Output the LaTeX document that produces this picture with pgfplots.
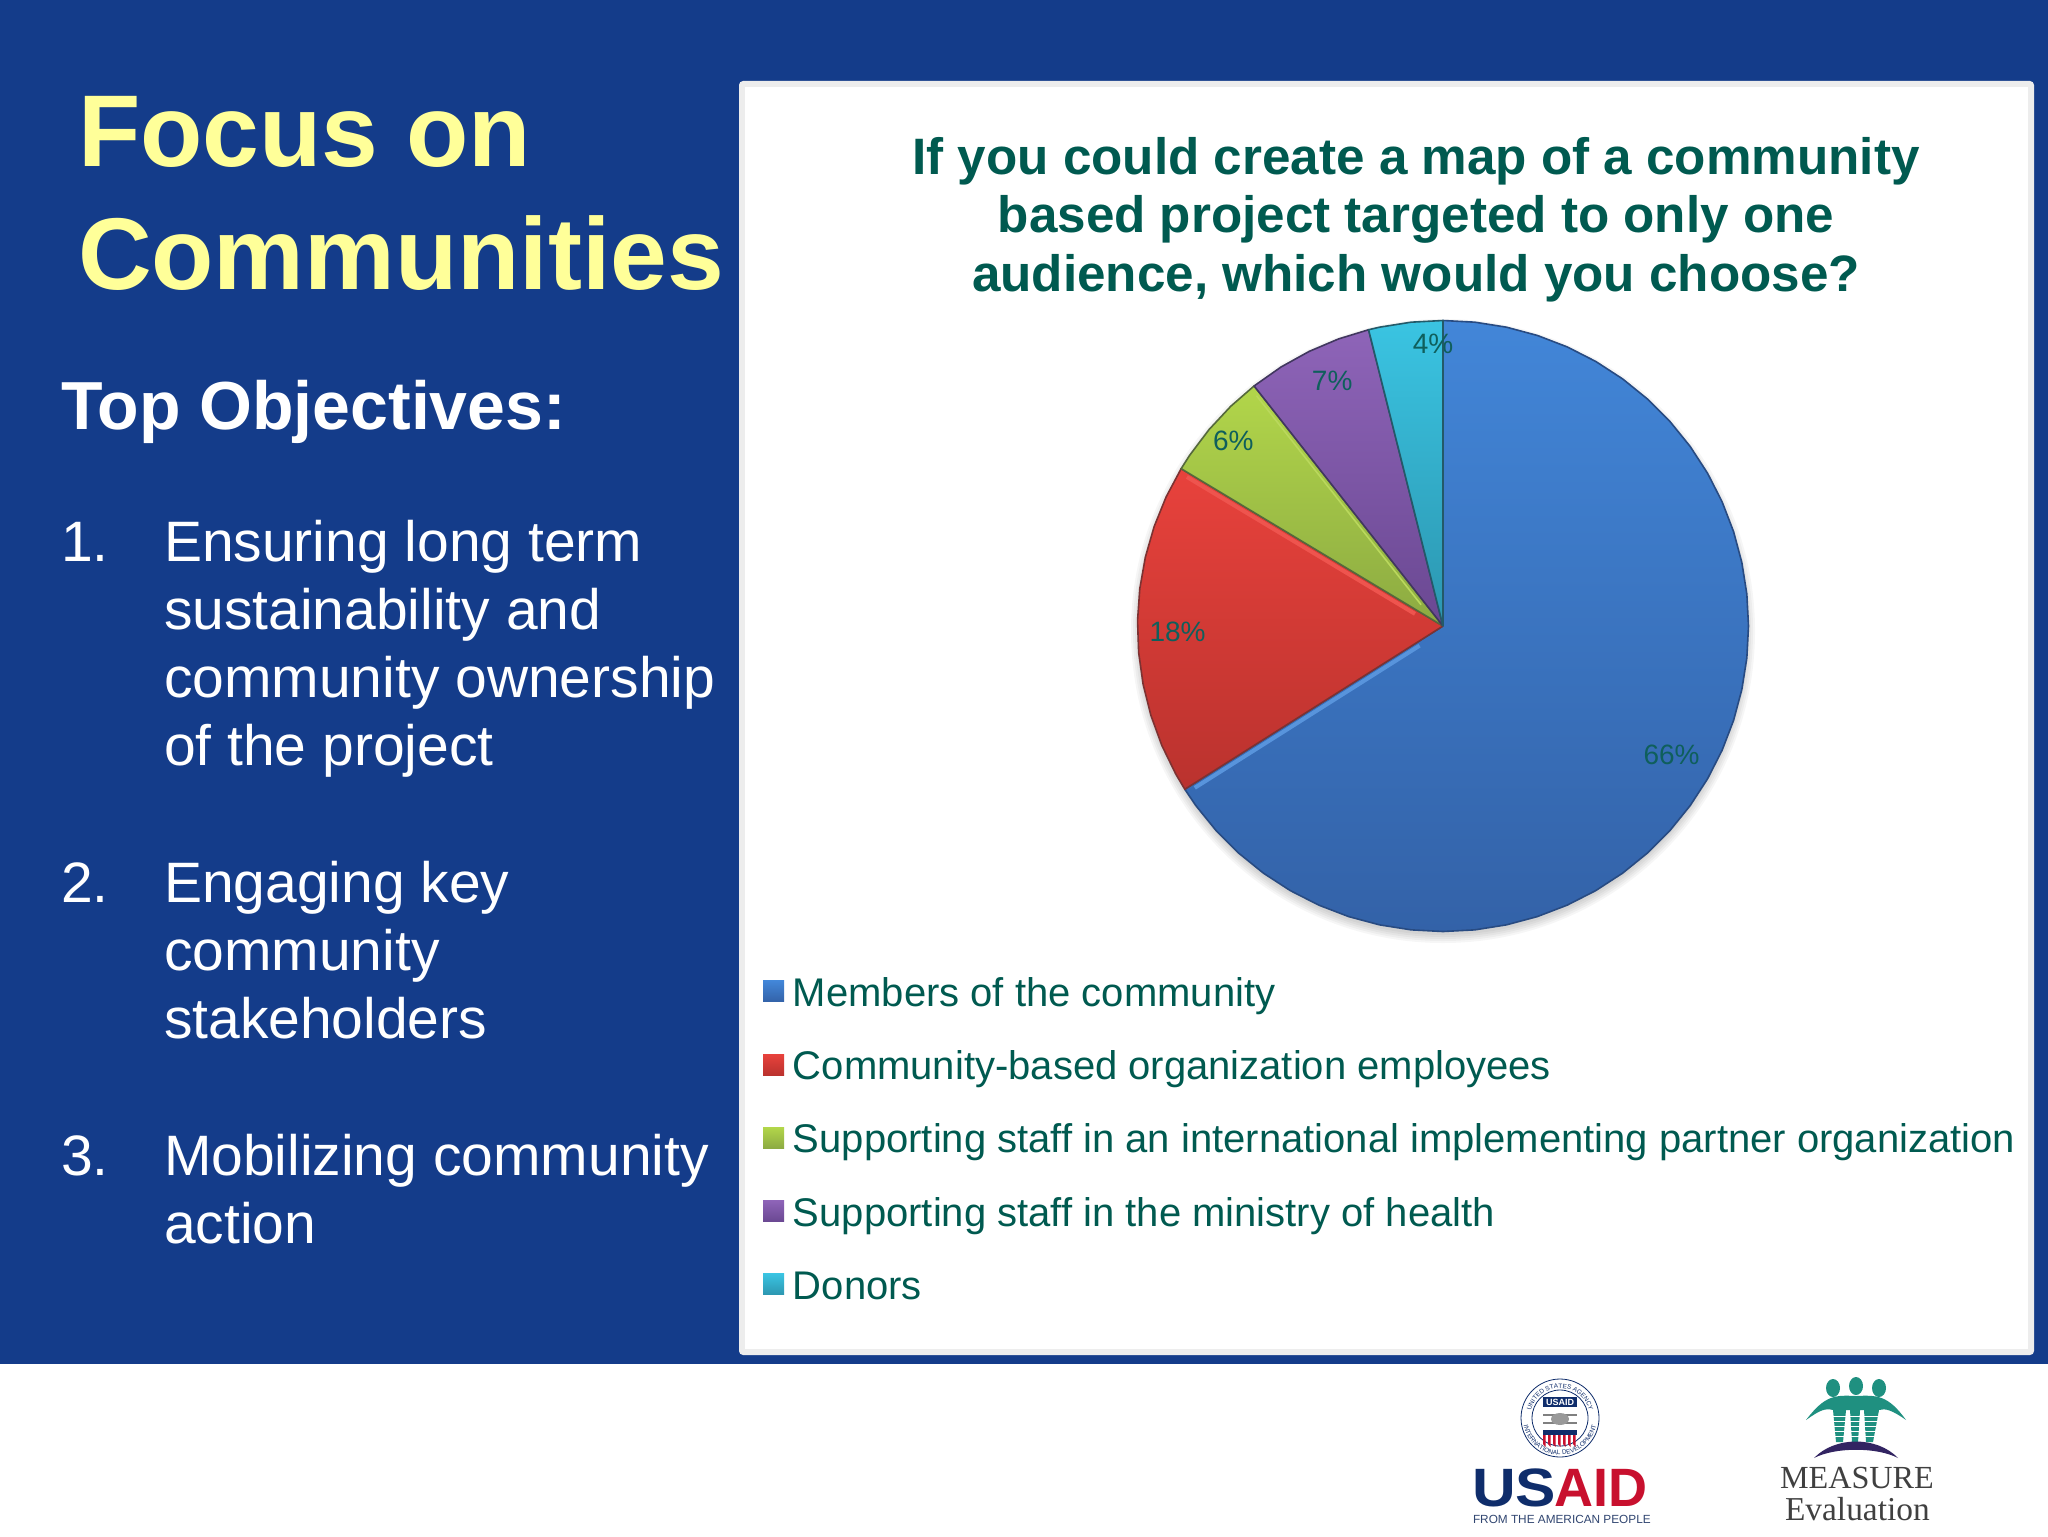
\documentclass[border=0pt]{standalone}
\usepackage{fontspec}
\usepackage{pgfplots}
\pgfplotsset{compat=1.18}
\usepgfplotslibrary{polar}
\usetikzlibrary{decorations.text}
\setmainfont{Liberation Sans}
\newfontfamily\serifface{Liberation Serif}
\definecolor{slide}{HTML}{143C8A}
\definecolor{headyellow}{HTML}{FFFF99}
\definecolor{tealtext}{HTML}{005A50}
\definecolor{navy}{HTML}{0F2D6B}
\definecolor{usred}{HTML}{C8102E}
\definecolor{peopleteal}{HTML}{1F9080}
\newcommand{\fs}[1]{\fontsize{#1}{#1}\selectfont}
\begin{document}
\begin{tikzpicture}[x=0.5pt,y=-0.5pt,
    txt/.style={anchor=base west,inner sep=0pt,outer sep=0pt}]
\useasboundingbox (0,0) rectangle (2048,1536);
\fill[white] (0,0) rectangle (2048,1536);
\fill[slide] (0,0) rectangle (2048,1364);
% panel
\fill[white!86!gray,rounded corners=2pt] (739,81) rectangle (2034,1355);
\fill[white] (745,87) rectangle (2028,1349);
% left column
\node[txt,text=headyellow] at (78,166) {\fs{51}\bfseries Focus on};
\node[txt,text=headyellow] at (78,289) {\fs{51}\bfseries Communities};
\node[txt,text=white] at (61,429) {\fs{34}\bfseries Top Objectives:};
\foreach \y/\t in {561/Ensuring long term,629/sustainability and,697/community ownership,765/of the project,
    902/Engaging key,970/community,1038/stakeholders,
    1175/Mobilizing community,1243/action}
  \node[txt,text=white] at (164,\y) {\fs{28.5}\t};
\foreach \y/\t in {561/1.,902/2.,1175/3.}
  \node[txt,text=white] at (61,\y) {\fs{28.5}\t};
% chart title
\foreach \y/\t in {174/If you could create a map of a community,232/based project targeted to only one,291/{audience, which would you choose?}}
  \node[anchor=base,inner sep=0pt,text=tealtext] at (1416,\y) {\fs{25.6}\bfseries\t};
% soft shadow under the pie
\foreach \k in {0,2,4,6,8}
  \fill[black,opacity=0.035] (1443,631) circle ({304+\k});

\begin{polaraxis}[
    at={(721.5pt,-313pt)},anchor=center,
    scale only axis,width=305.5pt,height=305.5pt,
    hide axis,clip=false,
    xmin=0,xmax=360,ymin=0,ymax=1,
    legend style={
      draw=none,fill=none,inner sep=0pt,
      at={(-0.6146,-0.0683)},anchor=north west,
      font=\fs{20},text=tealtext,
      row sep=16.2pt,
      nodes={inner sep=0pt,text height=15pt,text depth=4pt}},
    legend cell align=left,
    legend image code/.code={
      \path[#1,draw=none,overlay] (0pt,-3.25pt) rectangle (10.5pt,7.25pt);
      \path (0pt,0pt) (14.5pt,10.5pt);},
    every axis plot/.append style={line width=0.8pt,line join=round},
]
% Members of the community (66%)
\addplot[shade,top color={rgb,255:red,66;green,134;blue,216},bottom color={rgb,255:red,51;green,98;blue,168},draw={rgb,255:red,40;green,75;blue,130}] coordinates {
  (0,0) (212.3,1) (216,1) (222,1) (228,1) (234,1) (240,1) (246,1) (252,1) (258,1) (264,1) (270,1)
  (276,1) (282,1) (288,1) (294,1) (300,1) (306,1) (312,1) (318,1) (324,1) (330,1) (336,1) (342,1)
  (348,1) (354,1) (360,1) (6,1) (12,1) (18,1) (24,1) (30,1) (36,1) (42,1) (48,1) (54,1) (60,1)
  (66,1) (72,1) (78,1) (84,1) (90,1) (0,0)};
\addlegendentry{Members of the community}
% Community-based organization employees (18%)
\addplot[shade,top color={rgb,255:red,232;green,66;blue,60},bottom color={rgb,255:red,186;green,50;blue,46},draw={rgb,255:red,125;green,50;blue,50}] coordinates {
  (0,0) (149,1) (155,1) (161,1) (167,1) (173,1) (179,1) (185,1) (191,1) (197,1) (203,1) (209,1) (212.3,1) (0,0)};
\addlegendentry{Community-based organization employees}
% Supporting staff, international partner (6%)
\addplot[shade,top color={rgb,255:red,178;green,214;blue,74},bottom color={rgb,255:red,140;green,170;blue,66},draw={rgb,255:red,85;green,105;blue,60}] coordinates {
  (0,0) (128.2,1) (134,1) (140,1) (146,1) (149,1) (0,0)};
\addlegendentry{Supporting staff in an international implementing partner organization}
% Supporting staff, ministry of health (7%)
\addplot[shade,top color={rgb,255:red,142;green,100;blue,184},bottom color={rgb,255:red,106;green,72;blue,146},draw={rgb,255:red,65;green,55;blue,95}] coordinates {
  (0,0) (104.1,1) (110,1) (116,1) (122,1) (128.2,1) (0,0)};
\addlegendentry{Supporting staff in the ministry of health}
% Donors (4%)
\addplot[shade,top color={rgb,255:red,58;green,196;blue,226},bottom color={rgb,255:red,44;green,150;blue,176},draw={rgb,255:red,35;green,90;blue,105}] coordinates {
  (0,0) (90,1) (96,1) (102,1) (104.1,1) (0,0)};
\addlegendentry{Donors}
% bevel highlights along the slice edges
\addplot[forget plot,line width=2pt,color={rgb,255:red,88;green,148;blue,220}] coordinates {(220,0.1) (213.1,0.97)};
\addplot[forget plot,line width=2pt,color={rgb,255:red,238;green,84;blue,78}] coordinates {(156.6,0.1) (149.8,0.97)};
\addplot[forget plot,line width=0.8pt,color={rgb,255:red,186;green,216;blue,92}] coordinates {(135.8,0.1) (129,0.97)};
% percentage labels
\foreach \a/\r/\t in {330.8/0.857/66\%,180.9/0.869/18\%,138.3/0.919/6\%,114.2/0.885/7\%,92/0.929/4\%}{
  \edef\temp{\noexpand\node[text={rgb,255:red,15;green,95;blue,92},inner sep=0pt,yshift=-0.6pt,font=\noexpand\fs{14}] at (axis cs:\a,\r) {\t};}
  \temp}
\end{polaraxis}

% USAID logo
\draw[navy,line width=0.4pt,fill=white] (1560,1418) circle (39);
\draw[navy,line width=0.4pt] (1560,1418) circle (28);
\path[postaction={decorate,decoration={text along path,text align=center,
    text={|\fs{3.2}\color{navy}|UNITED STATES AGENCY}}}] (1530.5,1412.8) arc[start angle=170,end angle=10,radius=15pt];
\path[postaction={decorate,decoration={text along path,text align=center,
    text={|\fs{3.2}\color{navy}|INTERNATIONAL DEVELOPMENT}}}] (1523.1,1421.2) arc[start angle=185,end angle=355,radius=18.5pt];
\fill[navy] (1543,1397) rectangle (1577,1407);
\node[inner sep=0pt,text=white] at (1560,1402) {\fs{4.5}\bfseries USAID};
\draw[gray,line width=0.7pt] (1543,1415) -- (1577,1415) (1543,1423) -- (1577,1423);
\fill[gray!80] (1560,1419) ellipse (9 and 6);
\fill[navy] (1543,1430) rectangle (1577,1435);
\foreach \x in {1543,1548,1553,1558,1563,1568,1573}
  \fill[usred] (\x,1435) -- (\x,1444) -- (\x+2.5,1447) -- (\x+2.5,1435) -- cycle;
\node[txt,text=navy,xscale=1.12] at (1472,1506) {\fs{27}\bfseries US};
\node[txt,text=usred] at (1554,1506) {\fs{27}\bfseries AID};
\node[txt,text=navy!70!gray] at (1473,1523) {\fs{5.9}FROM THE AMERICAN PEOPLE};
% MEASURE Evaluation logo
\fill[peopleteal] (1833,1388) ellipse (7 and 9);
\fill[peopleteal] (1856,1386) ellipse (7 and 9);
\fill[peopleteal] (1879,1388) ellipse (7 and 9);
\fill[peopleteal] (1806,1420) .. controls (1825,1395) and (1835,1395) .. (1856,1396)
   .. controls (1877,1395) and (1888,1395) .. (1906,1420)
   .. controls (1892,1410) and (1885,1408) .. (1879,1410) -- (1873,1442) -- (1866,1442) -- (1864,1410)
   -- (1860,1410) -- (1858,1442) -- (1852,1442) -- (1850,1410) -- (1846,1410) -- (1843,1442) -- (1836,1442)
   -- (1833,1410) .. controls (1825,1408) and (1820,1410) .. (1806,1420) -- cycle;
\foreach \y in {1416,1421,1426,1431,1436}
  \draw[white,line width=0.5pt] (1830,\y) -- (1880,\y);
\fill[navy!80!purple] (1814,1458) .. controls (1835,1436) and (1877,1436) .. (1898,1458)
   .. controls (1877,1447) and (1835,1447) .. (1814,1458) -- cycle;
\node[txt,text=black!75] at (1780,1488) {\serifface\fs{16.1}MEASURE};
\node[txt,text=black!75] at (1785,1520) {\serifface\fs{16.7}Evaluation};
\end{tikzpicture}
\end{document}
